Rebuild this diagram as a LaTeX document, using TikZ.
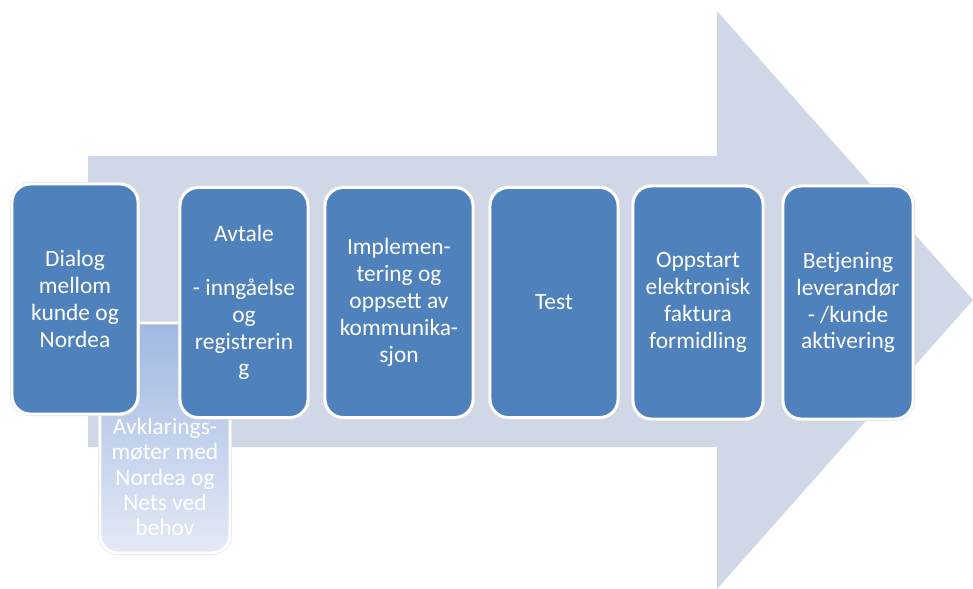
\documentclass[tikz,border=0pt]{standalone}
\usepackage{fontspec}
\setmainfont{Carlito}
\usepackage{tikz}
\usetikzlibrary{positioning}
\definecolor{stepblue}{HTML}{4F81BD}
\definecolor{arrowgrey}{HTML}{D0D8E8}
\definecolor{softtop}{HTML}{A0B8E2}
\definecolor{softbottom}{HTML}{E4EAF6}

\begin{document}
\begin{tikzpicture}[
            x=0.03cm, y=-0.03cm,
            bigarrow/.style={fill=arrowgrey, draw=none},
            stepbox/.style={draw=white, line width=2.5pt, fill=stepblue, rounded corners=0.55cm,
                minimum width=3.84cm, minimum height=6.9cm, align=center, text=white,
                font=\fontsize{20}{23}\selectfont,
                preaction={draw=black!12, line width=3.4pt}},
            softbox/.style={stepbox, fill=none, top color=softtop, bottom color=softbottom},
            softtext/.style={align=center, text=white, font=\fontsize{20}{21.5}\selectfont},
        ]
            \useasboundingbox (0,0) rectangle (973,589);

            % Arrow
            \fill[bigarrow] (88,156) -- (717,156) -- (717,11) -- (973,300) -- (717,589)
                -- (717,447) -- (88,447) -- cycle;

            % Nodes
            \node[softbox, minimum width=3.9cm] (avklaring) at (165,438) {};
            \node[softtext] (avklaringtext) at (165,477) {Avklarings-\\møter med\\Nordea og\\Nets ved\\behov};
            \node[stepbox, minimum width=3.78cm] (dialog) at (75,299) {Dialog\\mellom\\kunde og\\Nordea};
            \node[stepbox] (avtale) at (244,302.5) {Avtale\\[23pt]- inngåelse\\og\\registrerin\\g};
            \node[stepbox, minimum width=4.44cm] (impl) at (399,302.5) {Implemen-\\tering og\\oppsett av\\kommunika-\\sjon};
            \node[stepbox] (test) at (554,302.5) {Test};
            \node[stepbox, minimum width=3.9cm, minimum height=6.99cm] (oppstart) at (698,302.5) {Oppstart\\elektronisk\\faktura\\formidling};
            \node[stepbox, minimum width=3.9cm, minimum height=6.99cm] (betjening) at (848,302.5) {Betjening\\leverandør\\- /kunde\\aktivering};

        \end{tikzpicture}
\end{document}
